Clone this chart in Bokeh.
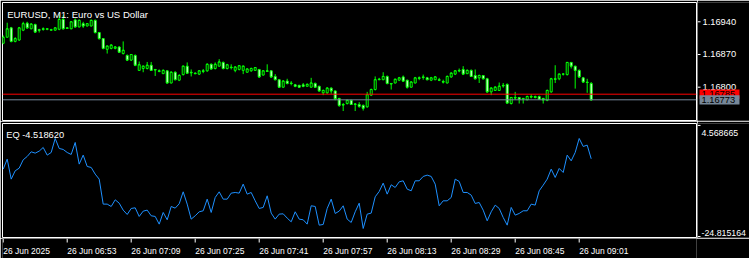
from bokeh.plotting import figure
from bokeh.layouts import column, row
from bokeh.models import Range1d, Span, Label, ColumnDataSource
from bokeh.core.properties import value
from bokeh.embed import file_html
from bokeh.resources import INLINE

# ---- data (EURUSD M1, 26 Jun 2025 06:37 .. 09:04) ----
opens = [1.16894,1.16907,1.16927,1.16898,1.16901,1.16922,1.16937,1.16925,1.16934,1.16923,
         1.16925,1.16924,1.16922,1.16922,1.16924,1.16945,1.16927,1.16925,1.16944,1.16929,
         1.16936,1.16931,1.16931,1.16943,1.16917,1.16904,1.16881,1.16883,1.16883,1.16886,
         1.16872,1.16868,1.16858,1.16868,1.16836,1.16840,1.16840,1.16847,1.16838,1.16835,
         1.16829,1.16835,1.16809,1.16832,1.16815,1.16827,1.16845,1.16832,1.16830,1.16828,
         1.16835,1.16835,1.16849,1.16840,1.16845,1.16853,1.16840,1.16843,1.16836,1.16838,
         1.16836,1.16832,1.16835,1.16836,1.16838,1.16826,1.16835,1.16835,1.16823,1.16816,
         1.16800,1.16813,1.16809,1.16805,1.16804,1.16805,1.16802,1.16800,1.16808,1.16802,
         1.16788,1.16788,1.16798,1.16792,1.16776,1.16763,1.16765,1.16772,1.16763,1.16763,
         1.16761,1.16758,1.16783,1.16795,1.16816,1.16816,1.16823,1.16808,1.16809,1.16815,
         1.16822,1.16815,1.16800,1.16809,1.16820,1.16822,1.16820,1.16815,1.16816,1.16816,
         1.16812,1.16809,1.16822,1.16828,1.16836,1.16838,1.16829,1.16836,1.16825,1.16820,
         1.16825,1.16818,1.16790,1.16793,1.16793,1.16804,1.16806,1.16765,1.16778,1.16778,
         1.16776,1.16773,1.16780,1.16780,1.16780,1.16776,1.16772,1.16790,1.16818,1.16818,
         1.16828,1.16827,1.16853,1.16845,1.16836,1.16820,1.16811,1.16808]
highs = [1.16911,1.16938,1.16929,1.16907,1.16929,1.16940,1.16940,1.16937,1.16936,1.16925,
         1.16928,1.16926,1.16925,1.16928,1.16955,1.16954,1.16928,1.16941,1.16947,1.16945,
         1.16940,1.16937,1.16945,1.16945,1.16918,1.16905,1.16889,1.16892,1.16888,1.16888,
         1.16898,1.16870,1.16871,1.16870,1.16855,1.16846,1.16854,1.16854,1.16839,1.16838,
         1.16838,1.16836,1.16834,1.16834,1.16828,1.16846,1.16853,1.16838,1.16832,1.16836,
         1.16839,1.16851,1.16851,1.16853,1.16860,1.16855,1.16850,1.16849,1.16845,1.16847,
         1.16846,1.16840,1.16842,1.16843,1.16839,1.16836,1.16849,1.16836,1.16828,1.16817,
         1.16815,1.16818,1.16813,1.16807,1.16805,1.16809,1.16808,1.16820,1.16810,1.16803,
         1.16795,1.16800,1.16800,1.16793,1.16777,1.16766,1.16773,1.16773,1.16766,1.16768,
         1.16763,1.16790,1.16797,1.16823,1.16820,1.16832,1.16825,1.16809,1.16818,1.16822,
         1.16825,1.16816,1.16813,1.16822,1.16823,1.16827,1.16822,1.16822,1.16823,1.16820,
         1.16816,1.16825,1.16832,1.16836,1.16840,1.16845,1.16838,1.16838,1.16838,1.16827,
         1.16826,1.16820,1.16800,1.16802,1.16810,1.16809,1.16808,1.16779,1.16790,1.16779,
         1.16777,1.16782,1.16785,1.16782,1.16782,1.16777,1.16795,1.16820,1.16847,1.16829,
         1.16830,1.16854,1.16854,1.16846,1.16838,1.16822,1.16818,1.16811]
lows = [1.16892,1.16906,1.16896,1.16896,1.16899,1.16920,1.16925,1.16924,1.16916,1.16917,
        1.16921,1.16922,1.16921,1.16921,1.16922,1.16924,1.16925,1.16924,1.16928,1.16928,
        1.16927,1.16930,1.16930,1.16915,1.16902,1.16881,1.16872,1.16881,1.16881,1.16874,
        1.16870,1.16856,1.16856,1.16845,1.16835,1.16832,1.16838,1.16835,1.16824,1.16832,
        1.16828,1.16808,1.16808,1.16815,1.16813,1.16825,1.16829,1.16823,1.16828,1.16826,
        1.16830,1.16833,1.16838,1.16838,1.16844,1.16838,1.16838,1.16838,1.16832,1.16836,
        1.16828,1.16831,1.16833,1.16835,1.16820,1.16825,1.16833,1.16820,1.16815,1.16799,
        1.16799,1.16806,1.16804,1.16800,1.16799,1.16800,1.16801,1.16799,1.16799,1.16791,
        1.16783,1.16786,1.16786,1.16772,1.16758,1.16749,1.16763,1.16762,1.16749,1.16756,
        1.16750,1.16756,1.16781,1.16793,1.16815,1.16815,1.16806,1.16795,1.16808,1.16813,
        1.16812,1.16797,1.16799,1.16808,1.16815,1.16816,1.16815,1.16813,1.16815,1.16813,
        1.16808,1.16808,1.16820,1.16826,1.16832,1.16826,1.16828,1.16822,1.16817,1.16809,
        1.16817,1.16788,1.16783,1.16792,1.16792,1.16799,1.16765,1.16763,1.16773,1.16765,
        1.16765,1.16772,1.16776,1.16776,1.16773,1.16765,1.16770,1.16788,1.16809,1.16815,
        1.16825,1.16825,1.16840,1.16797,1.16820,1.16810,1.16788,1.16771]
closes = [1.16907,1.16925,1.16898,1.16904,1.16927,1.16936,1.16927,1.16935,1.16918,1.16922,
          1.16924,1.16925,1.16923,1.16927,1.16945,1.16925,1.16926,1.16940,1.16929,1.16943,
          1.16931,1.16936,1.16943,1.16917,1.16904,1.16883,1.16888,1.16890,1.16886,1.16875,
          1.16879,1.16858,1.16870,1.16847,1.16848,1.16845,1.16847,1.16836,1.16837,1.16834,
          1.16836,1.16809,1.16832,1.16816,1.16825,1.16845,1.16830,1.16831,1.16829,1.16835,
          1.16834,1.16849,1.16839,1.16849,1.16854,1.16840,1.16848,1.16842,1.16843,1.16846,
          1.16845,1.16839,1.16840,1.16842,1.16822,1.16835,1.16834,1.16822,1.16816,1.16800,
          1.16813,1.16808,1.16808,1.16802,1.16800,1.16802,1.16806,1.16809,1.16800,1.16792,
          1.16793,1.16798,1.16792,1.16775,1.16761,1.16762,1.16772,1.16763,1.16764,1.16759,
          1.16755,1.16784,1.16795,1.16816,1.16817,1.16823,1.16808,1.16807,1.16817,1.16820,
          1.16813,1.16800,1.16811,1.16820,1.16819,1.16821,1.16816,1.16820,1.16822,1.16815,
          1.16811,1.16823,1.16830,1.16835,1.16835,1.16828,1.16836,1.16823,1.16818,1.16825,
          1.16818,1.16790,1.16798,1.16800,1.16802,1.16803,1.16766,1.16778,1.16777,1.16774,
          1.16775,1.16780,1.16779,1.16778,1.16774,1.16773,1.16793,1.16818,1.16817,1.16828,
          1.16828,1.16853,1.16845,1.16836,1.16822,1.16811,1.16810,1.16773]
equity = [-7.19,-4.62,-9.77,-7.62,-6.94,-4.79,-3.93,-2.73,-3.07,-2.55,
          -1.61,-3.58,-2.90,0.71,-1.87,-2.12,-2.90,-3.41,-0.32,-5.90,
          -3.58,-6.51,-6.76,-8.48,-9.77,-16.21,-16.21,-16.82,-15.10,-15.96,
          -17.76,-18.88,-17.33,-17.16,-19.39,-18.02,-17.76,-19.22,-19.39,-21.37,
          -18.36,-20.25,-16.82,-17.25,-16.13,-13.04,-16.21,-20.08,-19.22,-18.19,
          -17.93,-14.93,-18.36,-14.50,-13.04,-14.93,-14.93,-13.38,-13.21,-13.38,
          -11.06,-13.64,-13.21,-15.36,-17.33,-17.07,-14.07,-18.53,-20.08,-18.79,
          -18.71,-19.82,-20.77,-18.19,-20.08,-20.25,-21.37,-16.64,-16.82,-21.63,
          -21.46,-17.33,-14.93,-18.62,-18.02,-16.64,-20.08,-20.94,-18.19,-15.96,
          -22.49,-18.79,-18.53,-14.32,-12.95,-10.80,-13.64,-11.23,-11.92,-10.46,
          -10.20,-12.35,-12.78,-10.20,-10.20,-9.08,-8.74,-9.08,-11.06,-16.64,
          -15.36,-15.36,-14.50,-9.77,-10.37,-13.21,-13.21,-13.89,-16.04,-15.79,
          -17.76,-20.51,-18.19,-16.47,-17.33,-19.65,-21.63,-17.07,-19.05,-18.62,
          -17.93,-17.93,-16.21,-16.47,-12.78,-11.32,-9.77,-7.19,-9.34,-7.02,
          -8.05,-3.58,-5.05,-2.90,0.71,-1.35,-1.01,-4.52]
tick_bars = [0, 16, 32, 48, 64, 80, 96, 112, 128, 144]
tick_labels = ["26 Jun 2025", "26 Jun 06:53", "26 Jun 07:09", "26 Jun 07:25", "26 Jun 07:41",
               "26 Jun 07:57", "26 Jun 08:13", "26 Jun 08:29", "26 Jun 08:45", "26 Jun 09:01"]
price_ticks = [1.16800, 1.16870, 1.16940]
price_tick_labels = ["1.16800", "1.16870", "1.16940"]
eq_max = 4.568665
eq_min = -24.815164
eq_tick_labels = ["4.568665", "-24.815164"]
level_price = 1.16785
bid_price = 1.16773
level_label = "1.16785"
bid_label = "1.16773"
title_text = "EURUSD, M1:  Euro vs US Dollar"
eq_text = "EQ -4.518620"

FONT = "Liberation Sans"
GREEN = "#00ff00"
GRAY = "#778899"
FS = "9.3px"

bars = list(range(len(opens)))
body_top = [max(o, c) for o, c in zip(opens, closes)]
body_bot = [min(o, c) for o, c in zip(opens, closes)]
body_fill = ["white" if c < o else "black" for o, c in zip(opens, closes)]
src = ColumnDataSource(dict(x=bars, o=opens, h=highs, l=lows, c=closes,
                            top=body_top, bot=body_bot, fill=body_fill,
                            xl=[b - 0.25 for b in bars], xr=[b + 0.25 for b in bars]))

x_rng = Range1d(-0.175, 173.325)
price_rng = Range1d(1.167287, 1.169813)
BOX_HALF = 0.0001  # half height of a price tag box (about 4.7 px)


def base_fig(**kw):
    f = figure(output_backend="svg", toolbar_location=None,
               x_axis_location=None, y_axis_location=None,
               background_fill_color="black", border_fill_color="black", **kw)
    f.grid.visible = False
    return f


# ---------- top pane (price) ----------
p1 = base_fig(width=697, height=121, x_range=x_rng, y_range=price_rng,
              min_border_left=2, min_border_right=1, min_border_top=2, min_border_bottom=1,
              outline_line_color="white", outline_line_width=1)
p1.segment(x0="x", y0="h", x1="x", y1="l", source=src, line_color=GREEN, line_width=1)
p1.vbar(x="x", width=0.5, top="top", bottom="bot", source=src,
        fill_color="fill", line_color=GREEN, line_width=1)
p1.segment(x0="xl", y0="c", x1="xr", y1="c", source=src, line_color=GREEN, line_width=1)
p1.add_layout(Span(location=level_price, dimension="width", line_color="red", line_width=1))
p1.add_layout(Span(location=bid_price, dimension="width", line_color=GRAY, line_width=1))
p1.add_layout(Label(x=1.0, y=1.169556, text=title_text, text_color="white",
                    text_font=FONT, text_font_size="9.6px", text_baseline="alphabetic"))

# right price scale strip
s1 = base_fig(width=52, height=121, x_range=Range1d(697, 749), y_range=price_rng,
              min_border_left=0, min_border_right=0, min_border_top=2, min_border_bottom=1,
              outline_line_color=None)
s1.segment(x0=[697] * len(price_ticks), x1=[700] * len(price_ticks),
           y0=price_ticks, y1=price_ticks, line_color="white", line_width=1)
s1.text(x=[702] * len(price_ticks), y=price_ticks, text=price_tick_labels,
        text_color="white", text_font=value(FONT), text_font_size=value(FS),
        text_align="left", text_baseline="middle")
for price, lab, col in [(level_price, level_label, "red"), (bid_price, bid_label, GRAY)]:
    s1.quad(left=[699], right=[739], top=[price + BOX_HALF], bottom=[price - BOX_HALF],
            fill_color=col, line_color=None)
    s1.text(x=[701], y=[price], text=[lab], text_color="black",
            text_font=value(FONT), text_font_size=value(FS),
            text_align="left", text_baseline="middle")

# ---------- bottom pane (EQ) ----------
eq_rng = Range1d(eq_min, eq_max)
p2 = base_fig(width=697, height=117, x_range=x_rng, y_range=eq_rng,
              min_border_left=2, min_border_right=1, min_border_top=2, min_border_bottom=1,
              outline_line_color="white", outline_line_width=1)
p2.line(bars, equity, line_color="#1e90ff", line_width=1)
p2.add_layout(Label(x=0.75, y=1.4757, text=eq_text, text_color="white",
                    text_font=FONT, text_font_size=FS, text_baseline="alphabetic"))

s2 = base_fig(width=52, height=117, x_range=Range1d(697, 749),
              y_range=Range1d(-25.0729, 5.0842),
              min_border_left=0, min_border_right=0, min_border_top=0, min_border_bottom=0,
              outline_line_color=None)
s2.segment(x0=[697, 697], x1=[700, 700], y0=[eq_max, eq_min], y1=[eq_max, eq_min],
           line_color="white", line_width=1)
s2.text(x=[701, 701], y=[2.5066, -23.913], text=eq_tick_labels,
        text_color="white", text_font=value(FONT), text_font_size=value("8.8px"),
        text_align="left", text_baseline="alphabetic")

# ---------- time scale strip ----------
p3 = base_fig(width=749, height=20, x_range=x_rng, y_range=Range1d(20, 0),
              min_border_left=2, min_border_right=53, min_border_top=0, min_border_bottom=0,
              outline_line_color=None)
p3.segment(x0=tick_bars, x1=tick_bars, y0=[0] * len(tick_bars), y1=[4] * len(tick_bars),
           line_color="white", line_width=1)
p3.text(x=tick_bars, y=[12] * len(tick_bars), text=tick_labels,
        text_color="white", text_font=value(FONT), text_font_size=value("8.5px"),
        text_align="left", text_baseline="alphabetic")

layout = column(row(p1, s1, spacing=0), row(p2, s2, spacing=0), p3, spacing=0)
open("out.html", "w").write(file_html(layout, INLINE))
